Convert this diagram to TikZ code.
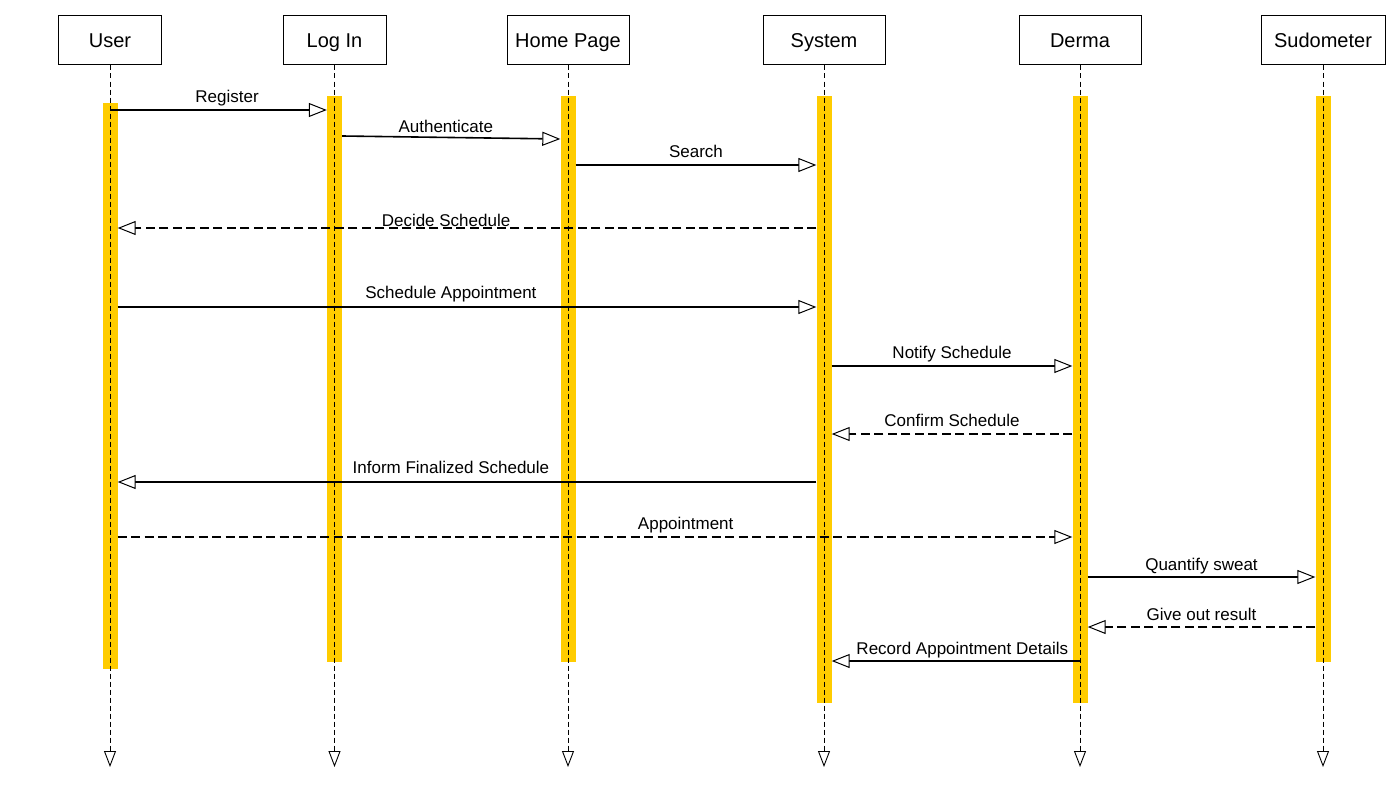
\documentclass[tikz,border=0pt]{standalone}
\usepackage{fontspec}
\setmainfont{Liberation Sans}
\usetikzlibrary{arrows.meta}
\definecolor{actgold}{RGB}{255,204,0}
\tikzset{
  head/.style={draw=black, line width=1pt, fill=white, minimum height=49pt,
    inner sep=0pt, text height=14.3pt, text depth=0pt,
    font=\fontsize{20}{24}\selectfont},
  actbar/.style={fill=actgold, draw=none, minimum width=15pt, inner sep=0pt, anchor=north},
  life/.style={line width=0.9pt, dash pattern=on 5pt off 3pt,
    -{Triangle[fill=white, length=16pt, width=12pt, line width=0.9pt]}},
  msg/.style={line width=1.6pt,
    -{Triangle[fill=white, length=18pt, width=14pt, line width=1pt]}},
  reply/.style={msg, dash pattern=on 9pt off 4.5pt},
  lbl/.style={anchor=base, inner sep=0pt, yshift=8pt,
    font=\fontsize{17}{20}\selectfont}
}
\begin{document}
\begin{tikzpicture}[x=1pt, y=-1pt]
\useasboundingbox[fill=white] (0,0) rectangle (1400,800);

% participant boxes
\node[head, minimum width=103pt] (user)  at (110,40.5)  {User};
\node[head, minimum width=103pt] (login) at (334.5,40.5) {Log In};
\node[head, minimum width=122pt] (home)  at (568,40.5)  {Home Page};
\node[head, minimum width=122pt] (sys)   at (824,40.5)  {System};
\node[head, minimum width=122pt] (derma) at (1080,40.5) {Derma};
\node[head, minimum width=124pt] (sudo)  at (1323,40.5) {Sudometer};

% activation bars
\node[actbar, minimum height=566pt] (ubar) at (user |- 0,103) {};
\node[actbar, minimum height=566pt] (lbar) at (login |- 0,96) {};
\node[actbar, minimum height=566pt] (hbar) at (home |- 0,96) {};
\node[actbar, minimum height=607pt] (sbar) at (sys |- 0,96) {};
\node[actbar, minimum height=607pt] (dbar) at (derma |- 0,96) {};
\node[actbar, minimum height=566pt] (mbar) at (sudo |- 0,96) {};

% lifelines
\foreach \p in {user,login,home,sys,derma,sudo}
  \draw[life] (\p.south) -- (\p.south |- 0,767);

% messages
\draw[msg] (user |- 0,110) -- (lbar.west |- 0,110)
  node[lbl, pos=0.54] {Register};
\draw[msg] (lbar.east |- 0,136) -- (hbar.west |- 0,139)
  node[lbl, pos=0.475, yshift=-3pt] {Authenticate};
\draw[msg] (hbar.east |- 0,165) -- (sbar.west |- 0,165)
  node[lbl, pos=0.5] {Search};
\draw[reply] (sbar.west |- 0,228) -- (ubar.east |- 0,228)
  node[lbl, pos=0.53, yshift=-6pt] {Decide Schedule};
\draw[msg] (ubar.east |- 0,307) -- (sbar.west |- 0,307)
  node[lbl, pos=0.477, yshift=1pt] {Schedule Appointment};
\draw[msg] (sbar.east |- 0,366) -- (dbar.west |- 0,366)
  node[lbl, pos=0.5] {Notify Schedule};
\draw[reply] (dbar.west |- 0,434) -- (sbar.east |- 0,434)
  node[lbl, pos=0.5] {Confirm Schedule};
\draw[msg] (sbar.west |- 0,482) -- (ubar.east |- 0,482)
  node[lbl, pos=0.523, yshift=1pt] {Inform Finalized Schedule};
\draw[reply] (ubar.east |- 0,537) -- (dbar.west |- 0,537)
  node[lbl, pos=0.595] {Appointment};
\draw[msg] (dbar.east |- 0,577) -- (mbar.west |- 0,577)
  node[lbl, pos=0.5, yshift=-1.5pt] {Quantify sweat};
\draw[reply] (mbar.west |- 0,627) -- (dbar.east |- 0,627)
  node[lbl, pos=0.5, yshift=-1.5pt] {Give out result};
\draw[msg] (derma |- 0,661) -- (sbar.east |- 0,661)
  node[lbl, pos=0.474, yshift=-1.5pt] {Record Appointment Details};
\end{tikzpicture}
\end{document}
